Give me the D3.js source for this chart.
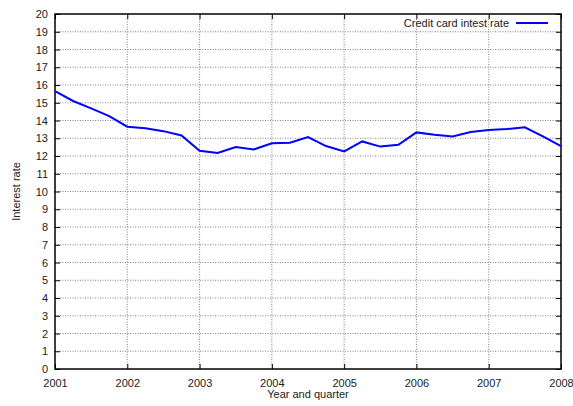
<!DOCTYPE html>
<html><head><meta charset="utf-8">
<script src="https://cdn.jsdelivr.net/npm/d3@7"></script>
<style>body{margin:0;background:#fff}svg{display:block}text{font-family:"Liberation Sans",Arial,sans-serif}</style>
</head><body>
<script>
const quarters = [2001,2001.25,2001.5,2001.75,2002,2002.25,2002.5,2002.75,2003,2003.25,2003.5,2003.75,2004,2004.25,2004.5,2004.75,2005,2005.25,2005.5,2005.75,2006,2006.25,2006.5,2006.75,2007,2007.25,2007.5,2007.75,2008];
const rates = [15.65,15.1,14.68,14.25,13.65,13.56,13.4,13.16,12.3,12.17,12.5,12.37,12.72,12.75,13.07,12.56,12.26,12.82,12.53,12.63,13.33,13.2,13.1,13.35,13.46,13.52,13.62,13.1,12.56];
const xTicks = [2001,2002,2003,2004,2005,2006,2007,2008];
const yTicks = d3.range(0,21,1);
const seriesName = "Credit card intest rate";

const W=573,H=406, m={l:55,r:12,t:14,b:37};
const svg=d3.select("body").append("svg").attr("width",W).attr("height",H);
const x=d3.scaleLinear().domain([2001,2008]).range([m.l,W-m.r]);
const y=d3.scaleLinear().domain([0,20]).range([H-m.b,m.t]);
const g=svg.append("g");
// grid
g.selectAll(".gy").data(yTicks.filter(d=>d>0&&d<20)).join("line")
 .attr("x1",m.l).attr("x2",W-m.r).attr("y1",d=>y(d)).attr("y2",d=>y(d))
 .attr("stroke","#666").attr("stroke-width",0.8).attr("stroke-dasharray","1,1.5");
g.selectAll(".gx").data(xTicks.filter(d=>d>2001&&d<2008)).join("line")
 .attr("y1",m.t).attr("y2",H-m.b).attr("x1",d=>x(d)).attr("x2",d=>x(d))
 .attr("stroke","#666").attr("stroke-width",0.8).attr("stroke-dasharray","1,1.5");
// axes with inward ticks
const fs=11;
svg.append("g").attr("transform",`translate(0,${H-m.b})`).call(d3.axisBottom(x).tickValues(xTicks).tickFormat(d3.format("d")).tickSize(-5).tickPadding(10));
svg.append("g").attr("transform",`translate(${m.l},0)`).call(d3.axisLeft(y).tickValues(yTicks).tickSize(-5).tickPadding(7));
svg.append("g").attr("transform",`translate(0,${m.t})`).call(d3.axisTop(x).tickValues(xTicks).tickFormat("").tickSize(-5));
svg.append("g").attr("transform",`translate(${W-m.r},0)`).call(d3.axisRight(y).tickValues(yTicks).tickFormat("").tickSize(-5));
svg.selectAll(".domain").remove();
svg.selectAll(".tick line").attr("stroke","#000");
svg.selectAll(".tick text").attr("font-size",fs).attr("fill","#222").style("font-family","'Liberation Sans',Arial,sans-serif");
// border
svg.append("rect").attr("x",m.l).attr("y",m.t).attr("width",W-m.l-m.r).attr("height",H-m.t-m.b)
 .attr("fill","none").attr("stroke","#000").attr("stroke-width",1.5);
// line
const data=quarters.map((q,i)=>({q,v:rates[i]}));
svg.append("path").datum(data).attr("fill","none").attr("stroke","#0000ff").attr("stroke-width",2)
 .attr("d",d3.line().x(d=>x(d.q)).y(d=>y(d.v)));
// legend
svg.append("text").attr("x",509).attr("y",27).attr("text-anchor","end").attr("font-size",fs).attr("fill","#222").text(seriesName);
svg.append("line").attr("x1",516).attr("x2",548).attr("y1",23).attr("y2",23).attr("stroke","#0000ff").attr("stroke-width",2);
// labels
svg.append("text").attr("x",(m.l+W-m.r)/2).attr("y",398).attr("text-anchor","middle").attr("font-size",fs).attr("fill","#222").text("Year and quarter");
svg.append("text").attr("transform",`translate(20,${(m.t+H-m.b)/2}) rotate(-90)`).attr("text-anchor","middle").attr("font-size",fs).attr("fill","#222").text("Interest rate");
</script>
</body></html>
